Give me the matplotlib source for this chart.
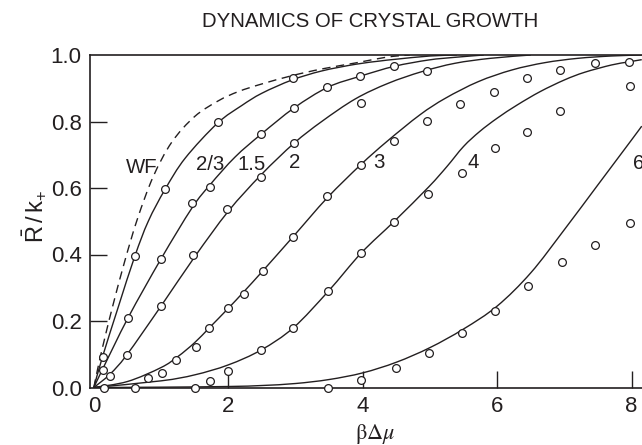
import matplotlib
matplotlib.use("Agg")
import matplotlib.pyplot as plt
from matplotlib.path import Path
from matplotlib.patches import PathPatch

plt.rcParams["font.family"] = ["Liberation Sans", "DejaVu Sans"]
plt.rcParams["mathtext.fontset"] = "custom"
plt.rcParams["mathtext.rm"] = "Liberation Sans"
plt.rcParams["mathtext.it"] = "Liberation Sans:italic"
plt.rcParams["mathtext.bf"] = "Liberation Sans:bold"

INK = "#231f20"

# ---- theory curves (beta*dmu, R/k+) ----
wf_x = [0, 0.07, 0.17, 0.29, 0.46, 0.65, 0.885, 1.16, 1.5, 1.85, 2.15, 2.5, 2.95, 3.39, 3.89, 4.2, 4.45, 4.7]
wf_y = [0, 0.068, 0.155, 0.252, 0.38, 0.508, 0.635, 0.738, 0.815, 0.862, 0.89, 0.913, 0.938, 0.958, 0.976, 0.988, 0.996, 1.0]

a_x = [0, 0.13, 0.365, 0.61, 0.81, 1.06, 1.36, 1.84, 2.2, 2.5, 2.95, 3.39, 3.89, 4.26, 4.48, 5.0, 5.4]
a_y = [0, 0.093, 0.243, 0.395, 0.50, 0.596, 0.69, 0.795, 0.848, 0.885, 0.925, 0.952, 0.972, 0.982, 0.987, 0.997, 1.0]

b_x = [0, 0.13, 0.51, 1.0, 1.46, 1.73, 2.1, 2.49, 2.98, 3.48, 3.96, 4.47, 4.98, 5.37, 5.8]
b_y = [0, 0.055, 0.21, 0.387, 0.54, 0.61, 0.693, 0.762, 0.841, 0.903, 0.936, 0.966, 0.985, 0.993, 1.0]

c_x = [0, 0.24, 0.49, 1.0, 1.5, 2.0, 2.49, 2.98, 3.39, 3.89, 4.38, 4.88, 5.37, 5.9, 6.5]
c_y = [0, 0.04, 0.098, 0.245, 0.393, 0.53, 0.64, 0.735, 0.80, 0.868, 0.915, 0.95, 0.975, 0.99, 1.0]

d_x = [0, 0.5, 1.0, 1.25, 1.5, 1.72, 1.99, 2.24, 2.51, 2.97, 3.47, 3.97, 4.36, 4.85, 5.23, 5.72, 6.22, 6.71, 7.2, 7.7, 8.15]
d_y = [0, 0.018, 0.06, 0.093, 0.135, 0.18, 0.236, 0.29, 0.35, 0.455, 0.57, 0.67, 0.74, 0.82, 0.87, 0.92, 0.955, 0.977, 0.99, 0.997, 1.0]

e_x = [0, 1.0, 1.5, 2.0, 2.49, 2.97, 3.49, 3.98, 4.47, 4.98, 5.25, 5.5, 5.74, 6.0, 6.3, 6.64, 7.0, 7.3, 7.7, 7.95, 8.15]
e_y = [0, 0.02, 0.038, 0.068, 0.113, 0.18, 0.29, 0.405, 0.50, 0.603, 0.664, 0.725, 0.77, 0.81, 0.85, 0.89, 0.925, 0.948, 0.97, 0.979, 0.986]

f_x = [0, 1.0, 2.0, 2.5, 3.0, 3.5, 4.0, 4.5, 5.0, 5.5, 6.0, 6.5, 7.0, 7.5, 8.0, 8.15]
f_y = [0, 0.001, 0.003, 0.006, 0.012, 0.024, 0.044, 0.076, 0.12, 0.176, 0.245, 0.345, 0.475, 0.61, 0.745, 0.786]

# ---- simulation points ----
pa_x = [0.14, 0.61, 1.06, 1.84, 2.96]
pa_y = [0.093, 0.395, 0.596, 0.797, 0.93]
pb_x = [0.14, 0.51, 1.0, 1.46, 1.73, 2.49, 2.98, 3.47, 3.96, 4.47]
pb_y = [0.053, 0.21, 0.387, 0.554, 0.604, 0.762, 0.841, 0.903, 0.936, 0.967]
pc_x = [0.24, 0.49, 1.0, 1.48, 1.98, 2.49, 2.98, 3.98, 4.95]
pc_y = [0.035, 0.098, 0.245, 0.40, 0.537, 0.632, 0.735, 0.857, 0.953]
pd_x = [0.81, 1.01, 1.22, 1.52, 1.72, 1.99, 2.24, 2.51, 2.97, 3.47, 3.97, 4.47, 4.96, 5.45, 5.95, 6.45, 6.94, 7.46, 7.96]
pd_y = [0.028, 0.043, 0.083, 0.121, 0.18, 0.238, 0.282, 0.351, 0.452, 0.576, 0.669, 0.742, 0.802, 0.853, 0.89, 0.93, 0.955, 0.977, 0.98]
pe_x = [1.73, 2.0, 2.49, 2.97, 3.48, 3.98, 4.47, 4.97, 5.47, 5.96, 6.45, 6.94, 7.97]
pe_y = [0.02, 0.05, 0.113, 0.18, 0.29, 0.405, 0.498, 0.582, 0.646, 0.721, 0.768, 0.832, 0.908]
pf_x = [0.15, 0.61, 1.5, 3.49, 3.97, 4.49, 4.99, 5.48, 5.97, 6.46, 6.97, 7.46, 7.97]
pf_y = [0.0, 0.0, 0.0, 0.0, 0.024, 0.058, 0.105, 0.163, 0.23, 0.305, 0.377, 0.428, 0.494]

# ---- curve labels ----
label_text = ["WF", "2/3", "1.5", "2", "3", "4", "6"]
label_x = [0.717, 1.73, 2.35, 2.99, 4.24, 5.64, 8.1]
label_y = [0.646, 0.654, 0.654, 0.659, 0.659, 0.659, 0.656]

x_ticks = [0, 2, 4, 6, 8]
y_ticks = [0.0, 0.2, 0.4, 0.6, 0.8, 1.0]


def smooth_path(xs, ys):
    """Cubic Bezier path passing through every (x, y) knot (Catmull-Rom tangents)."""
    pts = list(zip(xs, ys))
    n = len(pts)
    verts = [pts[0]]
    codes = [Path.MOVETO]
    for i in range(n - 1):
        p0 = pts[i - 1] if i > 0 else pts[i]
        p1 = pts[i]
        p2 = pts[i + 1]
        p3 = pts[i + 2] if i + 2 < n else pts[i + 1]
        c1 = (p1[0] + (p2[0] - p0[0]) / 6, p1[1] + (p2[1] - p0[1]) / 6)
        c2 = (p2[0] - (p3[0] - p1[0]) / 6, p2[1] - (p3[1] - p1[1]) / 6)
        verts += [c1, c2, p2]
        codes += [Path.CURVE4] * 3
    return Path(verts, codes)


fig = plt.figure(figsize=(6.42, 4.45), dpi=100)
ax = fig.add_axes([90 / 642, 57.5 / 445, 1 - 90 / 642, 332.5 / 445])

ax.add_patch(PathPatch(smooth_path(wf_x, wf_y), fill=False, edgecolor=INK, lw=1.0,
                       ls=(0, (6, 4)), zorder=2))
for cx, cy in [(a_x, a_y), (b_x, b_y), (c_x, c_y), (d_x, d_y), (e_x, e_y), (f_x, f_y)]:
    ax.add_patch(PathPatch(smooth_path(cx, cy), fill=False, edgecolor=INK, lw=1.0, zorder=2))

for px, py in [(pa_x, pa_y), (pb_x, pb_y), (pc_x, pc_y), (pd_x, pd_y), (pe_x, pe_y), (pf_x, pf_y)]:
    ax.plot(px, py, ls="none", marker="o", ms=5.6, mfc="white", mec=INK, mew=0.9,
            zorder=4, clip_on=False)

for t, x, y in zip(label_text, label_x, label_y):
    ax.text(x, y, t, fontsize=14.7, color=INK, ha="center", va="baseline", zorder=5)

ax.set_xlim(-0.057, 8.154)
ax.set_ylim(0, 1.0)
ax.set_xticks(x_ticks)
ax.set_yticks(y_ticks)
ax.set_yticklabels([f"{v:.1f}" for v in y_ticks])
ax.tick_params(direction="in", length=12, width=1.0, colors=INK, labelsize=16, pad=6)
ax.xaxis.get_major_ticks()[0].tick1line.set_visible(False)
for t in (ax.yaxis.get_major_ticks()[0], ax.yaxis.get_major_ticks()[-1]):
    t.tick1line.set_visible(False)

ax.spines["right"].set_visible(False)
for s in ("left", "bottom", "top"):
    ax.spines[s].set_linewidth(1.2)
    ax.spines[s].set_color(INK)

fig.text(370 / 642, 1 - 27 / 445, "DYNAMICS OF CRYSTAL GROWTH", fontsize=14.7,
         color=INK, ha="center", va="baseline")
fig.text(375 / 642, 1 - 439 / 445, r"$\mathrm{\beta\Delta}\mu$", fontsize=16,
         color=INK, ha="center", va="baseline", math_fontfamily="stix")
fig.text(34 / 642, 1 - 217 / 445, r"$\bar{\mathrm{R}}\,/\,\mathrm{k}_{+}$", fontsize=17,
         color=INK, ha="center", va="center", rotation=90)

fig.savefig("out.png", dpi=100)
